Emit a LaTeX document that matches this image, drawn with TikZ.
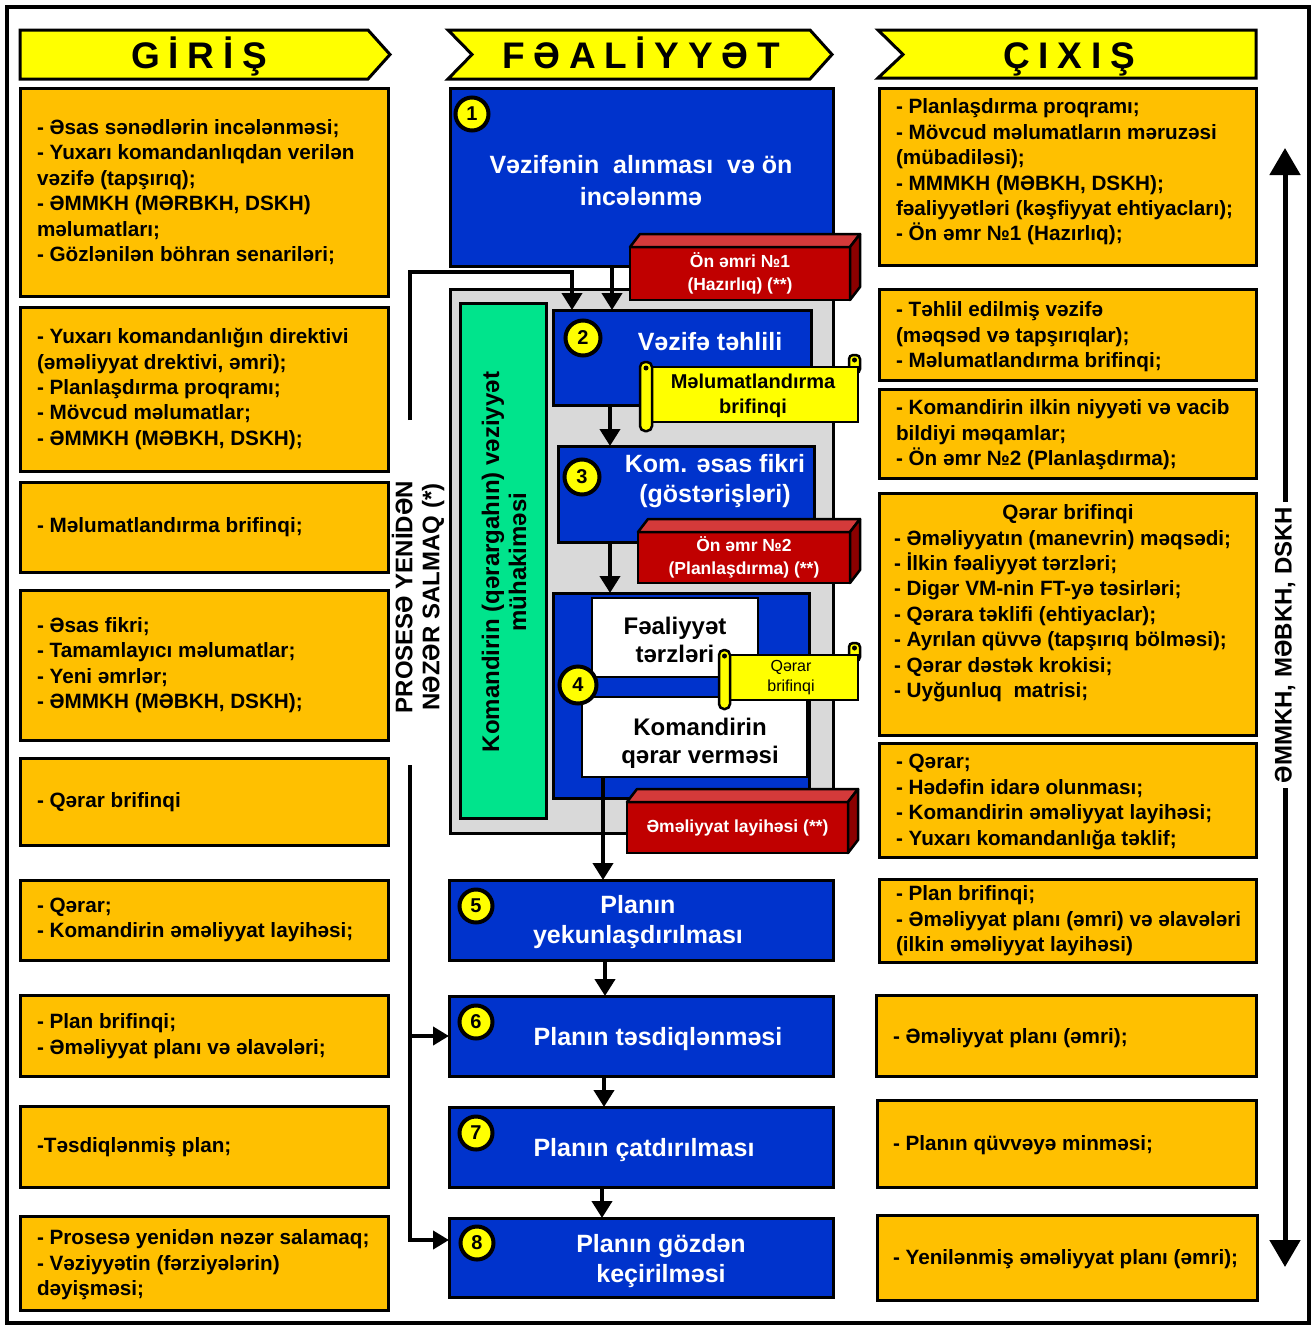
\documentclass[tikz,border=0pt]{standalone}
\usepackage{fontspec}
\setmainfont{Liberation Sans}
\usetikzlibrary{arrows.meta,calc}

\definecolor{hdrY}{RGB}{255,255,0}
\definecolor{boxO}{RGB}{255,192,0}
\definecolor{stepB}{RGB}{0,51,204}
\definecolor{redF}{RGB}{192,0,0}
\definecolor{redT}{RGB}{212,58,58}
\definecolor{redS}{RGB}{140,0,0}
\definecolor{greenB}{RGB}{0,228,140}
\definecolor{greyB}{RGB}{217,217,217}

% letter gap for the spaced column headings
\newcommand\gp{\hskip 8.7pt\relax}
% rectangle node from its top-left and bottom-right corners
\newcommand\rectnode[6]{\node[#1, anchor=north west, minimum width={#5-#3}, minimum height={#6-#4}] (#2) at (#3,#4) {};}
% red block with a lit top face and a shaded right face
\newcommand\redcube[6]{%
  \node[rfront, anchor=north west, minimum width={#4-#2}, minimum height={#5-#3}] (#1) at (#2,#3) {#6};
  \draw[rtop] (#1.north west) -- ++(10,-13) -- ([shift={(10,-13)}]#1.north east) -- (#1.north east) -- cycle;
  \draw[rside] (#1.north east) -- ++(10,-13) -- ([shift={(10,-13)}]#1.south east) -- (#1.south east) -- cycle;}

\begin{document}
\begin{tikzpicture}[x=1pt,y=-1pt,
  every node/.style={inner sep=0pt, outer sep=0pt},
  hdr/.style={draw=black, line width=3pt, fill=hdrY, line join=miter},
  hdrtxt/.style={anchor=base, font=\fontsize{37}{37}\selectfont\bfseries},
  obox/.style={rectangle, draw=black, line width=3pt, fill=boxO},
  otxt/.style={anchor=west, align=left, font=\fontsize{20.7}{25.4}\selectfont\bfseries},
  bbox/.style={rectangle, draw=black, line width=3pt, fill=stepB},
  btxt/.style={align=center, text=white, font=\fontsize{25}{30}\selectfont\bfseries},
  wbox/.style={rectangle, draw=black, line width=2.5pt, fill=white},
  ktxt/.style={align=center, font=\fontsize{24}{28}\selectfont\bfseries},
  gbox/.style={rectangle, draw=black, line width=3pt, fill=greyB},
  grbox/.style={rectangle, draw=black, line width=3pt, fill=greenB},
  rot/.style={rotate=90, align=center, font=\fontsize{24}{27}\selectfont\bfseries},
  rfront/.style={rectangle, draw=black, line width=2.5pt, fill=redF, text=white, align=center,
                 font=\fontsize{17.5}{23}\selectfont\bfseries},
  rtop/.style={draw=black, line width=2.5pt, fill=redT, line join=round},
  rside/.style={draw=black, line width=2.5pt, fill=redS, line join=round},
  scr/.style={draw=black, line width=2.5pt, fill=hdrY},
  scrbody/.style={rectangle, draw=black, line width=2.5pt, fill=hdrY},
  numc/.style={circle, draw=black, line width=4pt, fill=hdrY, minimum size=33pt,
               font=\fontsize{20}{20}\selectfont\bfseries},
  conn/.style={line width=4pt, -{Triangle[width=20pt,length=17pt]}},
  big/.style={line width=5pt, -{Triangle[width=30pt,length=27pt]}}
]
\useasboundingbox (0,0) rectangle (1315,1328);
\fill[white] (0,0) rectangle (1315,1328);
\draw[line width=4.5pt] (7,7) rectangle (1309,1323);

% ---------- column headings ----------
\draw[hdr] (20,30) -- (368,30) -- (390,54.5) -- (368,79) -- (20,79) -- cycle;
\node[hdrtxt] (hGiris) at (199,68) {G\gp İ\gp R\gp İ\gp Ş};
\draw[hdr] (448,30) -- (810,30) -- (832,54.5) -- (810,79) -- (448,79) -- (472,54.5) -- cycle;
\node[hdrtxt] (hFeal) at (641,68) {F\gp Ə\gp A\gp L\gp İ\gp Y\gp Y\gp Ə\gp T};
\draw[hdr] (878,30) -- (1256,30) -- (1256,78) -- (878,78) -- (903,54.5) -- cycle;
\node[hdrtxt] (hCixis) at (1069,68) {Ç\gp I\gp X\gp I\gp Ş};

% ---------- input column ----------
\rectnode{obox}{l1}{20}{88}{388}{296}
\node[otxt] (l1t) at (37,192) {- Əsas sənədlərin incələnməsi;\\- Yuxarı komandanlıqdan verilən\\vəzifə (tapşırıq);\\- ƏMMKH (MƏRBKH, DSKH)\\məlumatları;\\- Gözlənilən böhran senariləri;};
\rectnode{obox}{l2}{20}{307}{388}{471}
\node[otxt] (l2t) at (37,389) {- Yuxarı komandanlığın direktivi\\(əməliyyat drektivi, əmri);\\- Planlaşdırma proqramı;\\- Mövcud məlumatlar;\\- ƏMMKH (MƏBKH, DSKH);};
\rectnode{obox}{l3}{20}{482}{388}{572}
\node[otxt] (l3t) at (37,527) {- Məlumatlandırma brifinqi;};
\rectnode{obox}{l4}{20}{590}{388}{740}
\node[otxt] (l4t) at (37,665) {- Əsas fikri;\\- Tamamlayıcı məlumatlar;\\- Yeni əmrlər;\\- ƏMMKH (MƏBKH, DSKH);};
\rectnode{obox}{l5}{20}{758}{388}{845}
\node[otxt] (l5t) at (37,802) {- Qərar brifinqi};
\rectnode{obox}{l6}{20}{880}{388}{960}
\node[otxt] (l6t) at (37,920) {- Qərar;\\- Komandirin əməliyyat layihəsi;};
\rectnode{obox}{l7}{20}{995}{388}{1076}
\node[otxt] (l7t) at (37,1036) {- Plan brifinqi;\\- Əməliyyat planı və əlavələri;};
\rectnode{obox}{l8}{20}{1106}{388}{1187}
\node[otxt] (l8t) at (37,1147) {-Təsdiqlənmiş plan;};
\rectnode{obox}{l9}{20}{1216}{388}{1310}
\node[otxt] (l9t) at (37,1265) {- Prosesə yenidən nəzər salamaq;\\- Vəziyyətin (fərziyələrin)\\dəyişməsi;};

% ---------- output column ----------
\rectnode{obox}{r1}{879}{88}{1256}{265}
\node[otxt] (r1t) at (896,172) {- Planlaşdırma proqramı;\\- Mövcud məlumatların məruzəsi\\(mübadiləsi);\\- MMMKH (MƏBKH, DSKH);\\fəaliyyətləri (kəşfiyyat ehtiyacları);\\- Ön əmr №1 (Hazırlıq);};
\rectnode{obox}{r2}{879}{289}{1256}{380}
\node[otxt] (r2t) at (896,337) {- Təhlil edilmiş vəzifə\\(məqsəd və tapşırıqlar);\\- Məlumatlandırma brifinqi;};
\rectnode{obox}{r3}{879}{389}{1256}{478}
\node[otxt] (r3t) at (896,435) {- Komandirin ilkin niyyəti və vacib\\bildiyi məqamlar;\\- Ön əmr №2 (Planlaşdırma);};
\rectnode{obox}{r4}{879}{493}{1256}{735}
\node[otxt, anchor=center] (r4h) at (1068,514) {Qərar brifinqi};
\node[otxt] (r4t) at (894,616) {- Əməliyyatın (manevrin) məqsədi;\\- İlkin fəaliyyət tərzləri;\\- Digər VM-nin FT-yə təsirləri;\\- Qərara təklifi (ehtiyaclar);\\- Ayrılan qüvvə (tapşırıq bölməsi);\\- Qərar dəstək krokisi;\\- Uyğunluq\ \ matrisi;};
\rectnode{obox}{r5}{879}{743}{1256}{857}
\node[otxt] (r5t) at (896,802) {- Qərar;\\- Hədəfin idarə olunması;\\- Komandirin əməliyyat layihəsi;\\- Yuxarı komandanlığa təklif;};
\rectnode{obox}{r6}{879}{879}{1256}{962}
\node[otxt] (r6t) at (896,921) {- Plan brifinqi;\\- Əməliyyat planı (əmri) və əlavələri\\(ilkin əməliyyat layihəsi)};
\rectnode{obox}{r7}{876}{995}{1256}{1076}
\node[otxt] (r7t) at (893,1038) {- Əməliyyat planı (əmri);};
\rectnode{obox}{r8}{877}{1100}{1256}{1187}
\node[otxt] (r8t) at (893,1145) {- Planın qüvvəyə minməsi;};
\rectnode{obox}{r9}{877}{1215}{1257}{1300}
\node[otxt] (r9t) at (893,1259) {- Yenilənmiş əməliyyat planı (əmri);};

% ---------- activity column ----------
\rectnode{bbox}{c1}{450}{88}{833}{266}
\node[btxt, font=\fontsize{25}{32}\selectfont\bfseries] (c1t) at (641,181) {Vəzifənin\ \ alınması\ \ və ön\\incələnmə};

\rectnode{gbox}{cont}{450}{289}{833}{833}
\rectnode{grbox}{grn}{460}{303}{546}{818}
\node[rot] (grnt) at (504,562) {Komandirin (qərargahın) vəziyyət\\mühakiməsi};

\rectnode{bbox}{c2}{553}{310}{811}{405}
\node[btxt] (c2t) at (710,342) {Vəzifə təhlili};
\rectnode{bbox}{c3}{558}{446}{814}{542}
\node[btxt] (c3t) at (715,481) {Kom. əsas fikri\\(göstərişləri)};
\rectnode{bbox}{c4}{553}{593}{809}{798}
\rectnode{wbox}{ft}{592}{598}{758}{677}
\node[ktxt] (ftt) at (675,640) {Fəaliyyət\\tərzləri};
\rectnode{wbox}{kq}{582}{697}{807}{777}
\node[ktxt] (kqt) at (700,743) {Komandirin\\qərar verməsi};

% flow inside the grey block
\draw[conn] ([xshift=162pt]c1.south west) -- ([xshift=162pt]c1.south west |- c2.north);
\draw[conn] ([xshift=57pt]c2.south west) -- ([xshift=57pt]c2.south west |- c3.north);
\draw[conn] ([xshift=52pt]c3.south west) -- ([xshift=52pt]c3.south west |- c4.north);

% orders and briefings
\redcube{ro1}{630}{247}{850}{300}{Ön əmri №1\\(Hazırlıq) (**)}
\redcube{ro2}{638}{532}{850}{583}{Ön əmr №2\\(Planlaşdırma) (**)}
\redcube{ro3}{627}{802}{848}{853}{Əməliyyat layihəsi (**)}

\filldraw[scr, rounded corners=4pt] (849,355) rectangle (860,373);
\node[scrbody, anchor=north west, minimum width=207, minimum height=55] (sc1) at (651,367) {};
\fill (854.5,360) circle (2.5);
\filldraw[scr, rounded corners=5pt] (640,362) rectangle (652,431);
\fill (646,368) circle (2.5);
\node[align=center, font=\fontsize{20}{25}\selectfont\bfseries] (sc1t) at (753,396) {Məlumatlandırma\\brifinqi};

\filldraw[scr, rounded corners=4pt] (849,643) rectangle (860,661);
\node[scrbody, anchor=north west, minimum width=130, minimum height=45] (sc2) at (728,655) {};
\fill (854.5,648) circle (2.5);
\filldraw[scr, rounded corners=5pt] (719,650) rectangle (730,709);
\fill (724.5,656) circle (2.5);
\node[align=center, font=\fontsize{16}{20}\selectfont] (sc2t) at (791,678) {Qərar\\brifinqi};

% lower steps
\rectnode{bbox}{c5}{449}{880}{833}{960}
\node[btxt] (c5t) at (638,922) {Planın\\yekunlaşdırılması};
\rectnode{bbox}{c6}{449}{996}{833}{1076}
\node[btxt] (c6t) at (658,1039) {Planın təsdiqlənməsi};
\rectnode{bbox}{c7}{449}{1107}{833}{1187}
\node[btxt] (c7t) at (644,1150) {Planın çatdırılması};
\rectnode{bbox}{c8}{449}{1218}{833}{1297}
\node[btxt] (c8t) at (661,1261) {Planın gözdən\\keçirilməsi};

\draw[conn] ([xshift=21pt]kq.south west) -- ([xshift=21pt]kq.south west |- c5.north);
\draw[conn] ([xshift=156pt]c5.south west) -- ([xshift=156pt]c5.south west |- c6.north);
\draw[conn] ([xshift=155pt]c6.south west) -- ([xshift=155pt]c6.south west |- c7.north);
\draw[conn] ([xshift=153pt]c7.south west) -- ([xshift=153pt]c7.south west |- c8.north);

% step numbers
\node[numc] (n1) at (472,114) {1};
\node[numc, minimum size=35pt] (n2) at (583,338) {2};
\node[numc, minimum size=35pt] (n3) at (582,477) {3};
\node[numc, minimum size=37pt] (n4) at (578,685) {4};
\node[numc] (n5) at (476,906) {5};
\node[numc] (n6) at (476,1022) {6};
\node[numc] (n7) at (476,1133) {7};
\node[numc] (n8) at (477,1243) {8};

% review loop on the left
\node[rot] (fbt) at (418,597) {PROSESƏ YENİDƏN\\NƏZƏR SALMAQ (*)};
\coordinate (fbA) at (410,420);
\coordinate (fbB) at (410,272);
\coordinate (fbC) at (410,765);
\draw[line width=4pt, line join=miter, -{Triangle[width=20pt,length=17pt]}]
  (fbA) -- (fbB) -| ([xshift=19pt]c2.north west);
\draw[line width=4pt, line join=miter, -{Triangle[width=18pt,length=16pt]}]
  (fbC) |- ([yshift=17.5pt]c8.west);
\draw[line width=4pt, -{Triangle[width=18pt,length=16pt]}] (c6.west -| fbC) -- (c6.west);

% information exchange arrow on the right
\node[rot, inner sep=5pt] (side) at (1285,645) {ƏMMKH, MƏBKH, DSKH};
\coordinate (uptip) at (1285,148);
\coordinate (downtip) at (1285,1267);
\draw[big] (side.east) -- (uptip);
\draw[big] (side.west) -- (downtip);
\end{tikzpicture}
\end{document}
